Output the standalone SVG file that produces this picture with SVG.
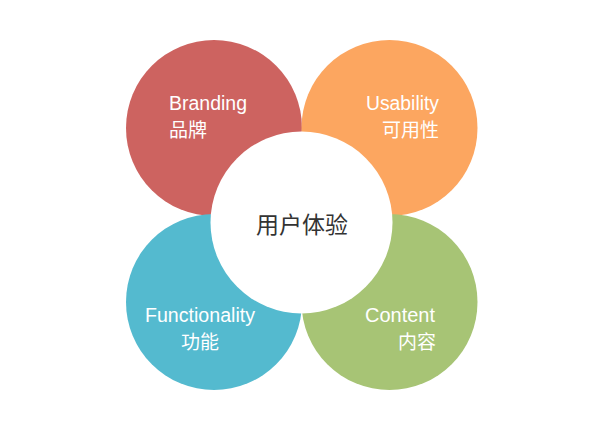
<svg xmlns="http://www.w3.org/2000/svg" width="600" height="430" viewBox="0 0 600 430">
<style>
.lbl{font-family:"Liberation Sans","Noto Sans CJK SC",sans-serif;font-size:19.5px;fill:#ffffff}
.cn{font-family:"Noto Sans CJK SC","Liberation Sans",sans-serif;font-size:19px;fill:#ffffff}
.center{font-family:"Noto Sans CJK SC",sans-serif;font-size:23px;fill:#333333}
</style>
<rect width="600" height="430" fill="#ffffff"/>
<g id="branding">
<circle cx="214" cy="128" r="88" fill="#cd6360"/>
<text class="lbl" x="169" y="110" textLength="78" lengthAdjust="spacingAndGlyphs">Branding</text>
<text class="cn" x="169" y="137">品牌</text>
</g>
<g id="usability">
<circle cx="389.5" cy="128" r="88" fill="#fca660"/>
<text class="lbl" x="366" y="110" textLength="73" lengthAdjust="spacingAndGlyphs">Usability</text>
<text class="cn" x="439" y="137" text-anchor="end">可用性</text>
</g>
<g id="functionality">
<circle cx="214" cy="302" r="88" fill="#54bacf"/>
<text class="lbl" x="145" y="322" textLength="110" lengthAdjust="spacingAndGlyphs">Functionality</text>
<text class="cn" x="200" y="349" text-anchor="middle">功能</text>
</g>
<g id="content">
<circle cx="389.5" cy="302" r="88" fill="#a7c475"/>
<text class="lbl" x="365" y="322" textLength="70" lengthAdjust="spacingAndGlyphs">Content</text>
<text class="cn" x="436" y="349" text-anchor="end">内容</text>
</g>
<g id="ux">
<circle cx="301.5" cy="222.5" r="91" fill="#ffffff"/>
<text class="center" x="302" y="233" text-anchor="middle">用户体验</text>
</g>
</svg>
